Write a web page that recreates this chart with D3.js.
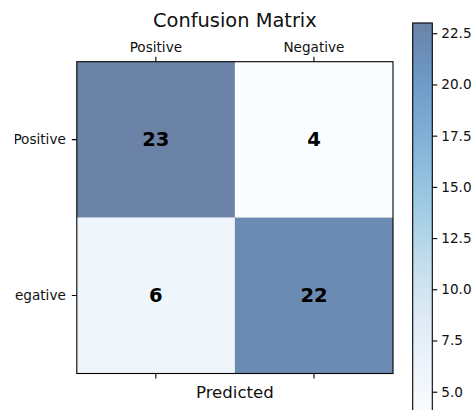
<!DOCTYPE html>
<html>
<head>
<meta charset="utf-8">
<script src="https://cdn.jsdelivr.net/npm/d3@7"></script>
<style>
  body { margin: 0; background: #fff; }
  svg { font-family: "DejaVu Sans", sans-serif; display: block; }
</style>
</head>
<body>
<svg width="475" height="410"></svg>
<script>
const categories = ["Positive", "Negative"];
const matrix = [
  [23, 4],
  [6, 22]
];
const colorTicks = [5.0, 7.5, 10.0, 12.5, 15.0, 17.5, 20.0, 22.5];
const blues = ["#f7fbff", "#deebf7", "#c6dbef", "#9ecae1", "#6baed6", "#4292c6", "#2171b5", "#08519c", "#08306b"];

const svg = d3.select("svg");
const alpha = 0.6;

const vmin = d3.min(matrix.flat());
const vmax = d3.max(matrix.flat());

// matplotlib "Blues" as linear segments
const cmap = d3.scaleLinear()
  .domain(blues.map((_, i) => i / (blues.length - 1)))
  .range(blues)
  .interpolate(d3.interpolateRgb);
const color = v => cmap((v - vmin) / (vmax - vmin));

const x = d3.scaleBand().domain(categories).range([76.8, 393]);
const y = d3.scaleBand().domain(categories).range([61.7, 373.5]);

const cells = matrix.flatMap((row, i) => row.map((v, j) => ({ actual: categories[i], pred: categories[j], v })));

svg.append("g")
  .selectAll("rect")
  .data(cells)
  .enter().append("rect")
  .attr("x", d => x(d.pred))
  .attr("y", d => y(d.actual))
  .attr("width", x.bandwidth())
  .attr("height", y.bandwidth())
  .attr("fill", d => color(d.v))
  .attr("fill-opacity", alpha);

svg.append("g")
  .selectAll("text")
  .data(cells)
  .enter().append("text")
  .attr("x", d => x(d.pred) + x.bandwidth() / 2)
  .attr("y", d => y(d.actual) + y.bandwidth() / 2)
  .attr("text-anchor", "middle")
  .attr("dominant-baseline", "central")
  .style("font-size", "19.5px")
  .style("font-weight", "bold")
  .attr("fill", "#000")
  .text(d => d.v);

// frame
svg.append("rect")
  .attr("x", x.range()[0])
  .attr("y", y.range()[0])
  .attr("width", x.range()[1] - x.range()[0])
  .attr("height", y.range()[1] - y.range()[0])
  .attr("fill", "none")
  .attr("stroke", "#000")
  .attr("stroke-width", 1.1);

function styleAxis(g) {
  g.attr("font-family", null).attr("font-size", null);
  g.select(".domain").remove();
  g.selectAll(".tick line").attr("stroke", "#000").attr("stroke-width", 1.1);
  g.selectAll(".tick text").style("font-size", "13.6px").attr("fill", "#111");
}

svg.append("g")
  .attr("transform", `translate(0, ${y.range()[0]})`)
  .call(d3.axisTop(x).tickSize(5).tickPadding(5))
  .call(styleAxis);

svg.append("g")
  .attr("transform", `translate(0, ${y.range()[1]})`)
  .call(d3.axisBottom(x).tickSize(5).tickFormat(""))
  .call(styleAxis);

// left labels: the reference is cropped on its left edge, hiding the first letter
const defs = svg.append("defs");
const leftClip = defs.append("clipPath")
  .attr("id", "leftClip")
  .append("rect")
  .attr("y", 0).attr("width", 475).attr("height", 410);

const leftAxis = svg.append("g")
  .attr("clip-path", "url(#leftClip)")
  .append("g")
  .attr("transform", `translate(${x.range()[0]}, 0)`)
  .call(d3.axisLeft(y).tickSize(5).tickPadding(6))
  .call(styleAxis);

const longest = leftAxis.selectAll(".tick text").filter(d => d === "Negative").node();
const startX = x.range()[0] - 5 - 6 - longest.getComputedTextLength();
const clipX = startX + longest.getSubStringLength(0, 1) - 0.3;
leftClip.attr("x", clipX);

// title
svg.append("text")
  .attr("x", (x.range()[0] + x.range()[1]) / 2)
  .attr("y", 27)
  .attr("text-anchor", "middle")
  .style("font-size", "19.4px")
  .attr("fill", "#111")
  .text("Confusion Matrix");

svg.append("text")
  .attr("x", (x.range()[0] + x.range()[1]) / 2)
  .attr("y", 397.5)
  .attr("text-anchor", "middle")
  .style("font-size", "16.6px")
  .attr("fill", "#111")
  .text("Predicted");

// colorbar
const cbX = 412.7, cbW = 19.6;
const cbScale = d3.scaleLinear().domain([vmin, vmax]).range([412.2, 23]);

const grad = defs.append("linearGradient")
  .attr("id", "cbGrad")
  .attr("x1", "0%").attr("x2", "0%")
  .attr("y1", "100%").attr("y2", "0%");
grad.selectAll("stop")
  .data(d3.range(0, 1.0001, 0.05))
  .enter().append("stop")
  .attr("offset", d => d * 100 + "%")
  .attr("stop-color", d => cmap(d))
  .attr("stop-opacity", alpha);

svg.append("rect")
  .attr("x", cbX)
  .attr("y", cbScale(vmax))
  .attr("width", cbW)
  .attr("height", cbScale(vmin) - cbScale(vmax))
  .attr("fill", "url(#cbGrad)")
  .attr("stroke", "#000")
  .attr("stroke-width", 1.1);

svg.append("g")
  .attr("transform", `translate(${cbX + cbW}, 0)`)
  .call(d3.axisRight(cbScale).tickValues(colorTicks).tickFormat(d3.format(".1f")).tickSize(5).tickPadding(4))
  .call(styleAxis);
</script>
</body>
</html>
